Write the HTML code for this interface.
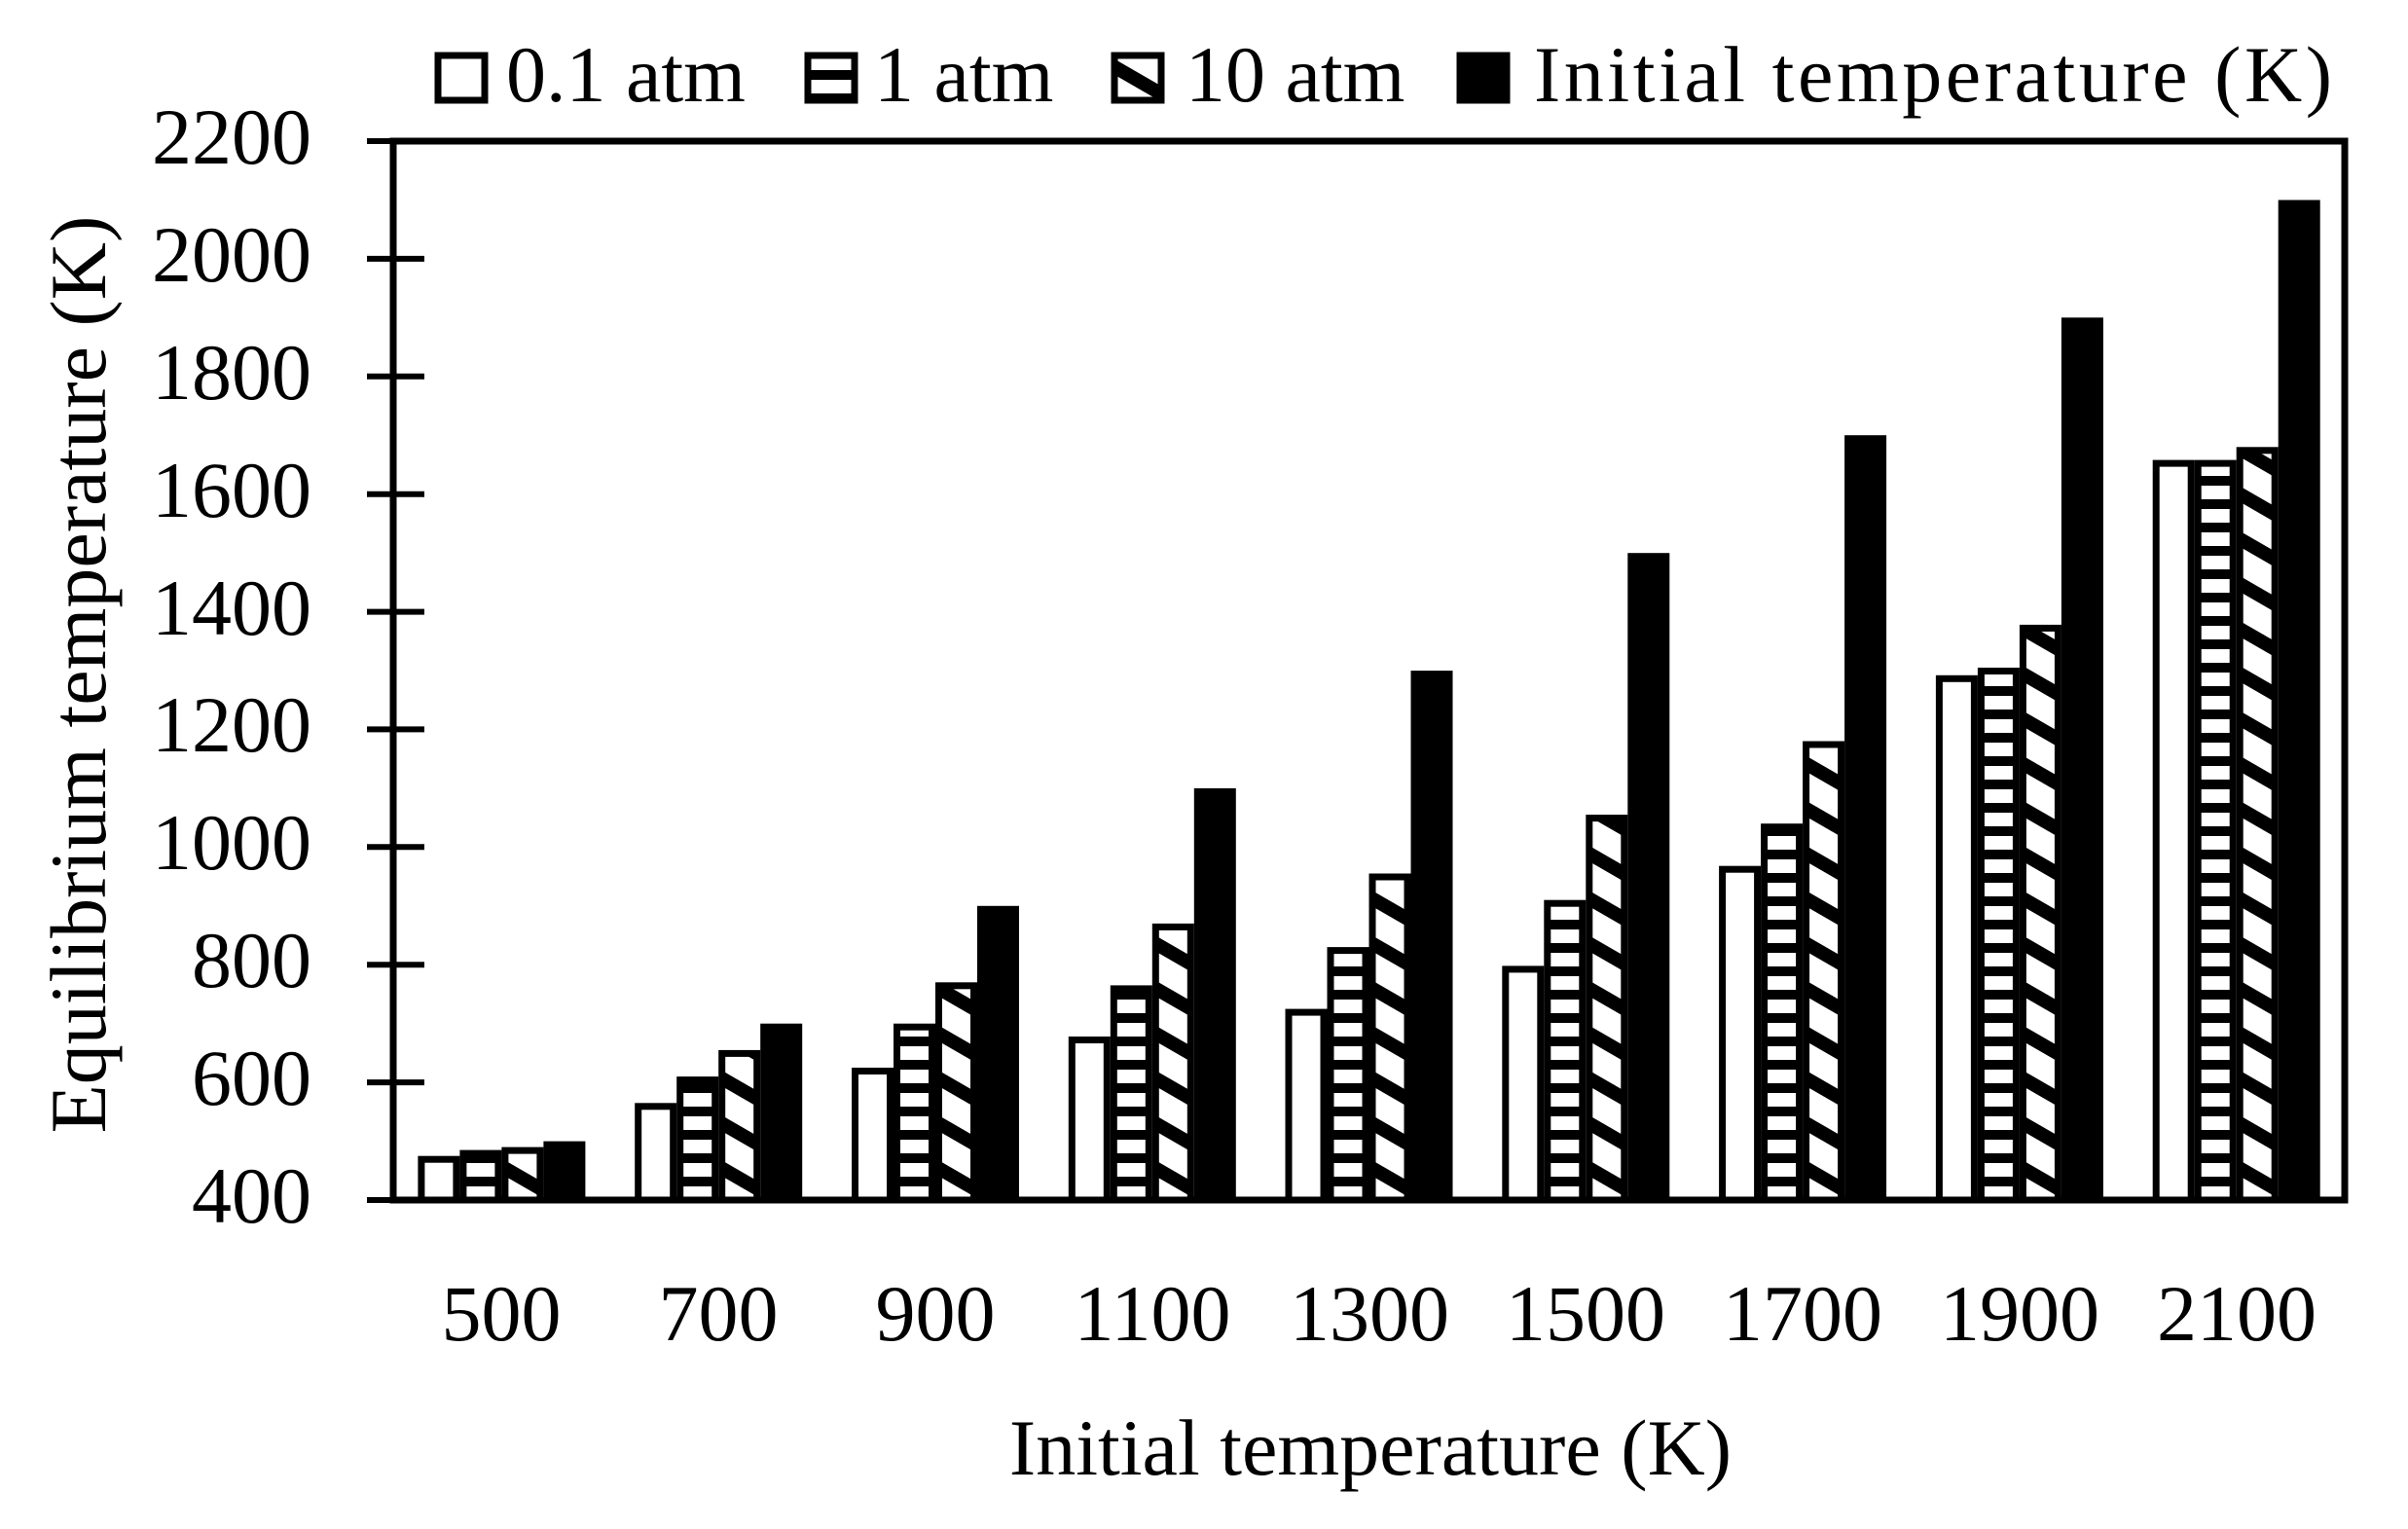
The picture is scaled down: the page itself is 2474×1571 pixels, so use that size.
<!DOCTYPE html>
<html><head><meta charset="utf-8"><style>html,body{margin:0;padding:0;background:#fff}svg{display:block}</style></head>
<body>
<svg width="2474" height="1571" xmlns="http://www.w3.org/2000/svg" font-family="'Liberation Serif',serif">
<defs>
<pattern id="hs" patternUnits="userSpaceOnUse" width="20" height="24"><rect width="20" height="24" fill="#fff"/><rect y="0" width="20" height="10" fill="#000"/></pattern>
<pattern id="dg" patternUnits="userSpaceOnUse" width="40" height="40" patternTransform="rotate(30)"><rect width="40" height="40" fill="#fff"/><rect y="0" width="40" height="14" fill="#000"/></pattern>
</defs>
<g stroke="#000" stroke-width="7">
<g transform="translate(429.4,1233)">
<rect x="3.5" y="-41.8" width="36" height="41.8" fill="#fff"/><rect x="46.5" y="-47.9" width="36" height="47.9" fill="url(#hs)"/><rect x="89.5" y="-50.9" width="36" height="50.9" fill="url(#dg)"/><rect x="132.5" y="-56.9" width="36" height="56.9" fill="#000"/></g>
<g transform="translate(652.2,1233)">
<rect x="3.5" y="-96.2" width="36" height="96.2" fill="#fff"/><rect x="46.5" y="-123.4" width="36" height="123.4" fill="url(#hs)"/><rect x="89.5" y="-150.6" width="36" height="150.6" fill="url(#dg)"/><rect x="132.5" y="-177.8" width="36" height="177.8" fill="#000"/></g>
<g transform="translate(875.0,1233)">
<rect x="3.5" y="-132.5" width="36" height="132.5" fill="#fff"/><rect x="46.5" y="-177.8" width="36" height="177.8" fill="url(#hs)"/><rect x="89.5" y="-220.2" width="36" height="220.2" fill="url(#dg)"/><rect x="132.5" y="-298.7" width="36" height="298.7" fill="#000"/></g>
<g transform="translate(1097.8,1233)">
<rect x="3.5" y="-164.5" width="36" height="164.5" fill="#fff"/><rect x="46.5" y="-217.1" width="36" height="217.1" fill="url(#hs)"/><rect x="89.5" y="-280.6" width="36" height="280.6" fill="url(#dg)"/><rect x="132.5" y="-419.6" width="36" height="419.6" fill="#000"/></g>
<g transform="translate(1320.5,1233)">
<rect x="3.5" y="-192.9" width="36" height="192.9" fill="#fff"/><rect x="46.5" y="-256.4" width="36" height="256.4" fill="url(#hs)"/><rect x="89.5" y="-332.0" width="36" height="332.0" fill="url(#dg)"/><rect x="132.5" y="-540.4" width="36" height="540.4" fill="#000"/></g>
<g transform="translate(1543.3,1233)">
<rect x="3.5" y="-237.1" width="36" height="237.1" fill="#fff"/><rect x="46.5" y="-304.8" width="36" height="304.8" fill="url(#hs)"/><rect x="89.5" y="-392.4" width="36" height="392.4" fill="url(#dg)"/><rect x="132.5" y="-661.3" width="36" height="661.3" fill="#000"/></g>
<g transform="translate(1766.1,1233)">
<rect x="3.5" y="-339.8" width="36" height="339.8" fill="#fff"/><rect x="46.5" y="-383.3" width="36" height="383.3" fill="url(#hs)"/><rect x="89.5" y="-468.0" width="36" height="468.0" fill="url(#dg)"/><rect x="132.5" y="-782.3" width="36" height="782.3" fill="#000"/></g>
<g transform="translate(1988.9,1233)">
<rect x="3.5" y="-535.7" width="36" height="535.7" fill="#fff"/><rect x="46.5" y="-543.5" width="36" height="543.5" fill="url(#hs)"/><rect x="89.5" y="-587.6" width="36" height="587.6" fill="url(#dg)"/><rect x="132.5" y="-903.2" width="36" height="903.2" fill="#000"/></g>
<g transform="translate(2211.7,1233)">
<rect x="3.5" y="-756.9" width="36" height="756.9" fill="#fff"/><rect x="46.5" y="-756.9" width="36" height="756.9" fill="url(#hs)"/><rect x="89.5" y="-770.2" width="36" height="770.2" fill="url(#dg)"/><rect x="132.5" y="-1024.0" width="36" height="1024.0" fill="#000"/></g>
</g>
<g stroke="#000" stroke-width="7" fill="none">
<rect x="404" y="145" width="2005" height="1088"/>
</g>
<g stroke="#000" stroke-width="6">
<line x1="377" x2="436" y1="265.9" y2="265.9"/><line x1="377" x2="436" y1="386.8" y2="386.8"/><line x1="377" x2="436" y1="507.7" y2="507.7"/><line x1="377" x2="436" y1="628.6" y2="628.6"/><line x1="377" x2="436" y1="749.4" y2="749.4"/><line x1="377" x2="436" y1="870.3" y2="870.3"/><line x1="377" x2="436" y1="991.2" y2="991.2"/><line x1="377" x2="436" y1="1112.1" y2="1112.1"/>
<line x1="377" x2="404" y1="145" y2="145"/><line x1="377" x2="404" y1="1233" y2="1233"/>
</g>
<g font-size="82" text-anchor="end">
<text x="320" y="168">2200</text><text x="320" y="289">2000</text><text x="320" y="410">1800</text><text x="320" y="531">1600</text><text x="320" y="652">1400</text><text x="320" y="772">1200</text><text x="320" y="893">1000</text><text x="320" y="1014">800</text><text x="320" y="1135">600</text><text x="320" y="1256">400</text>
</g>
<g font-size="82" text-anchor="middle">
<text x="515" y="1377">500</text><text x="738" y="1377">700</text><text x="961" y="1377">900</text><text x="1184" y="1377">1100</text><text x="1407" y="1377">1300</text><text x="1629" y="1377">1500</text><text x="1852" y="1377">1700</text><text x="2075" y="1377">1900</text><text x="2298" y="1377">2100</text>
<text x="1408" y="1515">Initial temperature (K)</text>
<text transform="translate(108,693) rotate(-90)">Equilibrium temperature (K)</text>
</g>
<g stroke="#000" stroke-width="7">
<rect x="450" y="57" width="48" height="46" fill="#fff"/>
<rect x="830" y="57" width="48" height="46" fill="url(#hs)"/>
<rect x="1145" y="57" width="48" height="46" fill="url(#dg)"/>
<rect x="1500" y="57" width="48" height="46" fill="#000"/>
</g>
<g font-size="82">
<text x="520" y="104">0.1 atm</text>
<text x="898" y="104">1 atm</text>
<text x="1218" y="104">10 atm</text>
<text x="1576" y="104" textLength="820">Initial temperature (K)</text>
</g>
</svg>
</body></html>
